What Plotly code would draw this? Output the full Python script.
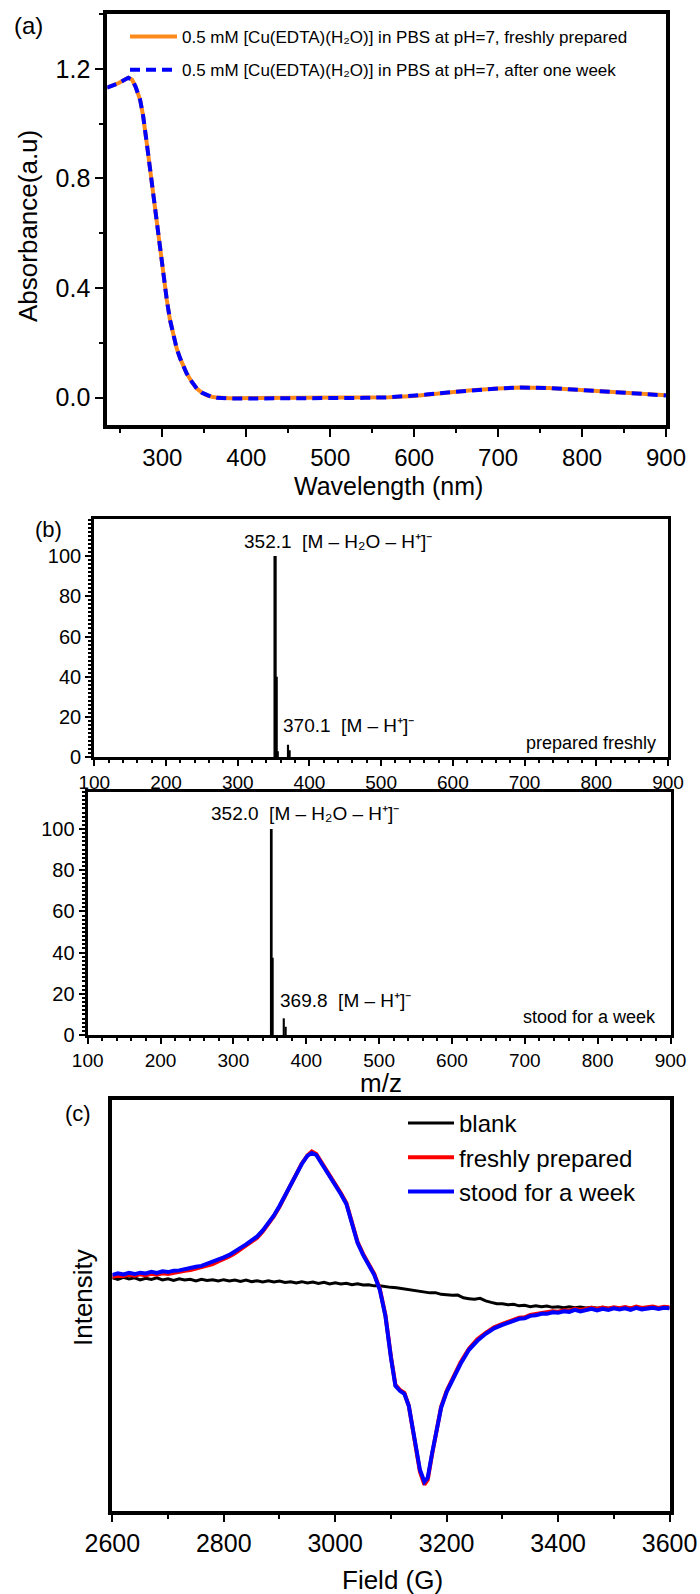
import plotly.graph_objects as go

FONT = "Liberation Sans, Arial, sans-serif"
W, H = 700, 1594

# ---------------- (a) UV-vis absorption ----------------
wavelength_nm = [234, 240, 248, 255, 259.5, 264, 268, 273.4, 277, 281.4, 284, 287.4, 290,
                 293.4, 296, 299.3, 302, 305.3, 309, 313.2, 317, 321.2, 325, 329, 335, 341,
                 347, 353, 359, 365, 380, 420, 460, 500, 540, 570, 600, 614, 640, 668, 700,
                 727, 760, 802, 830, 856, 880, 900]
abs_fresh = [1.131, 1.138, 1.148, 1.160, 1.167, 1.160, 1.135, 1.088, 1.030, 0.929, 0.865,
             0.795, 0.740, 0.661, 0.595, 0.502, 0.435, 0.356, 0.285, 0.222, 0.180, 0.143,
             0.115, 0.088, 0.058, 0.033, 0.018, 0.008, 0.003, 0.000, -0.002, -0.002, -0.002,
             -0.002, -0.001, 0.001, 0.006, 0.011, 0.019, 0.027, 0.033, 0.037, 0.035, 0.027,
             0.022, 0.017, 0.012, 0.009]
abs_week = [1.131, 1.138, 1.148, 1.160, 1.167, 1.160, 1.135, 1.088, 1.030, 0.929, 0.865,
            0.795, 0.740, 0.661, 0.595, 0.502, 0.435, 0.356, 0.285, 0.222, 0.180, 0.143,
            0.115, 0.088, 0.058, 0.033, 0.018, 0.008, 0.002, -0.001, -0.003, -0.003, -0.003,
            -0.002, -0.001, 0.001, 0.006, 0.011, 0.019, 0.027, 0.033, 0.037, 0.035, 0.027,
            0.022, 0.017, 0.012, 0.008]
abs_ticks = [0.0, 0.4, 0.8, 1.2]
wl_ticks = [300, 400, 500, 600, 700, 800, 900]

# ---------------- (b) ESI-MS ----------------
mz_fresh = [352.1, 354.1, 356.1, 370.1, 372.1]
rel_fresh = [100, 40, 3, 6.2, 3.5]
mz_week = [352.0, 354.0, 369.8, 371.8]
rel_week = [100, 37.5, 8.1, 4.0]
mz_ticks = [100, 200, 300, 400, 500, 600, 700, 800, 900]
rel_ticks = [0, 20, 40, 60, 80, 100]

# ---------------- (c) EPR ----------------
field_blank = [
    2600, 2610, 2620, 2630, 2640, 2650, 2660, 2670, 2680, 2690,
    2700, 2710, 2720, 2730, 2740, 2750, 2760, 2770, 2780, 2790,
    2800, 2810, 2820, 2830, 2840, 2850, 2860, 2870, 2880, 2890,
    2900, 2910, 2920, 2930, 2940, 2950, 2960, 2970, 2980, 2990,
    3000, 3010, 3020, 3030, 3040, 3050, 3060, 3070, 3080, 3090,
    3100, 3110, 3120, 3130, 3140, 3150, 3160, 3170, 3180, 3190,
    3200, 3210, 3220, 3230, 3240, 3250, 3260, 3270, 3280, 3290,
    3300, 3310, 3320, 3330, 3340, 3350, 3360, 3370, 3380, 3390,
    3400, 3410, 3420, 3430, 3440, 3450, 3460, 3470, 3480, 3490,
    3500, 3510, 3520, 3530, 3540, 3550, 3560, 3570, 3580, 3590,
    3600]
epr_blank = [
    0.300, 0.285, 0.305, 0.290, 0.300, 0.280, 0.295, 0.285, 0.300, 0.280,
    0.290, 0.275, 0.290, 0.280, 0.285, 0.270, 0.285, 0.275, 0.280, 0.268,
    0.282, 0.270, 0.278, 0.265, 0.278, 0.262, 0.272, 0.260, 0.270, 0.258,
    0.268, 0.255, 0.262, 0.250, 0.262, 0.248, 0.258, 0.245, 0.255, 0.240,
    0.250, 0.238, 0.245, 0.232, 0.240, 0.228, 0.232, 0.220, 0.222, 0.210,
    0.205, 0.200, 0.192, 0.185, 0.180, 0.168, 0.165, 0.150, 0.152, 0.135,
    0.130, 0.125, 0.128, 0.100, 0.092, 0.085, 0.095, 0.070, 0.055, 0.042,
    0.040, 0.030, 0.035, 0.020, 0.025, 0.012, 0.020, 0.010, 0.018, 0.005,
    0.012, 0.002, 0.010, 0.000, 0.008, -0.002, 0.006, -0.004, 0.005, -0.003,
    0.004, -0.005, 0.003, -0.002, 0.006, -0.004, 0.002, -0.003, 0.004, -0.002,
    0.000]
field_sample = [
    2600, 2610, 2620, 2630, 2640, 2650, 2660, 2670, 2680, 2690,
    2700, 2710, 2720, 2730, 2740, 2750, 2760, 2770, 2780, 2790,
    2800, 2810, 2820, 2830, 2840, 2850, 2860, 2870, 2880, 2890,
    2900, 2920, 2940, 2950, 2958, 2966, 2980, 3000, 3010, 3020,
    3030, 3040, 3050, 3060, 3070, 3080, 3090, 3100, 3108, 3116,
    3124, 3132, 3142, 3152, 3160, 3166, 3174, 3182, 3190, 3200,
    3212, 3225, 3240, 3255, 3270, 3285, 3300, 3310, 3320, 3330,
    3340, 3350, 3360, 3370, 3380, 3390, 3400, 3410, 3420, 3430,
    3440, 3450, 3460, 3470, 3480, 3490, 3500, 3510, 3520, 3530,
    3540, 3550, 3560, 3570, 3580, 3590, 3600]
epr_fresh = [
    0.312, 0.322, 0.318, 0.330, 0.322, 0.335, 0.325, 0.342, 0.332, 0.345,
    0.338, 0.352, 0.356, 0.372, 0.378, 0.395, 0.402, 0.425, 0.438, 0.465,
    0.488, 0.515, 0.545, 0.585, 0.622, 0.668, 0.702, 0.765, 0.840, 0.918,
    1.012, 1.225, 1.445, 1.525, 1.565, 1.540, 1.420, 1.250, 1.150, 1.050,
    0.870, 0.660, 0.540, 0.440, 0.340, 0.190, -0.070, -0.490, -0.770, -0.820,
    -0.850, -0.980, -1.340, -1.640, -1.770, -1.720, -1.460, -1.200, -0.990, -0.830,
    -0.690, -0.545, -0.410, -0.315, -0.250, -0.195, -0.160, -0.140, -0.128, -0.100,
    -0.095, -0.070, -0.062, -0.050, -0.048, -0.035, -0.038, -0.025, -0.028, -0.010,
    -0.022, -0.012, 0.000, -0.012, 0.002, -0.008, 0.006, -0.004, 0.008, -0.006,
    0.012, -0.002, 0.008, 0.012, 0.000, 0.010, 0.005]
epr_week = [
    0.330, 0.345, 0.335, 0.350, 0.338, 0.352, 0.345, 0.360, 0.350, 0.365,
    0.358, 0.372, 0.375, 0.390, 0.395, 0.412, 0.420, 0.440, 0.455, 0.480,
    0.505, 0.530, 0.560, 0.600, 0.635, 0.680, 0.715, 0.775, 0.850, 0.925,
    1.020, 1.230, 1.440, 1.520, 1.550, 1.530, 1.410, 1.240, 1.140, 1.040,
    0.860, 0.650, 0.530, 0.430, 0.330, 0.180, -0.080, -0.500, -0.780, -0.830,
    -0.860, -0.980, -1.330, -1.620, -1.740, -1.700, -1.450, -1.200, -1.000, -0.840,
    -0.700, -0.560, -0.420, -0.330, -0.260, -0.205, -0.170, -0.150, -0.140, -0.110,
    -0.105, -0.080, -0.075, -0.060, -0.060, -0.045, -0.050, -0.035, -0.040, -0.020,
    -0.035, -0.025, -0.010, -0.025, -0.010, -0.020, -0.005, -0.015, -0.005, -0.020,
    0.000, -0.015, -0.005, 0.000, -0.010, 0.000, -0.005]
field_ticks = [2600, 2800, 3000, 3200, 3400, 3600]


def dom_x(left, right):
    return [left / W, right / W]


def dom_y(top, bottom):
    return [1 - bottom / H, 1 - top / H]


def frame(lw, size, **kw):
    d = dict(showline=True, linecolor="black", linewidth=lw, mirror=True,
             ticks="outside", tickcolor="black", showgrid=False, zeroline=False,
             automargin=False, tickfont=dict(family=FONT, size=size, color="black"))
    d.update(kw)
    return d


def label(text, x, y, size, xanchor="center", angle=0):
    return dict(text=text, x=x / W, y=1 - y / H, xref="paper", yref="paper",
                showarrow=False, xanchor=xanchor, yanchor="middle", textangle=angle,
                font=dict(family=FONT, size=size, color="black"))


fig = go.Figure()

# (a) absorbance spectra
fig.add_trace(go.Scatter(
    x=wavelength_nm, y=abs_fresh, mode="lines", xaxis="x", yaxis="y",
    line=dict(color="#FF8A1C", width=4), legend="legend", legendgroup="a1",
    name="0.5 mM [Cu(EDTA)(H₂O)] in PBS at pH=7, freshly prepared"))
fig.add_trace(go.Scatter(
    x=wavelength_nm, y=abs_week, mode="lines", xaxis="x", yaxis="y",
    line=dict(color="#0000FF", width=4, dash="10px,6px"), legend="legend", legendgroup="a2",
    name="0.5 mM [Cu(EDTA)(H₂O)] in PBS at pH=7, after one week"))

# (b) mass spectra
fig.add_trace(go.Bar(x=mz_fresh, y=rel_fresh, width=[4.5, 3.5, 2.5, 3, 3.5],
                     marker=dict(color="black", line=dict(width=0)),
                     xaxis="x2", yaxis="y2", showlegend=False))
fig.add_trace(go.Bar(x=mz_week, y=rel_week, width=[3.7, 2.5, 1.6, 2.5],
                     marker=dict(color="black", line=dict(width=0)),
                     xaxis="x3", yaxis="y3", showlegend=False))

# (c) EPR spectra
fig.add_trace(go.Scatter(x=field_blank, y=epr_blank, mode="lines", name="blank",
                         line=dict(color="black", width=3), xaxis="x4", yaxis="y4",
                         legend="legend2"))
fig.add_trace(go.Scatter(x=field_sample, y=epr_fresh, mode="lines", name="freshly prepared",
                         line=dict(color="#FF0000", width=4), xaxis="x4", yaxis="y4",
                         legend="legend2"))
fig.add_trace(go.Scatter(x=field_sample, y=epr_week, mode="lines", name="stood for a week",
                         line=dict(color="#0000FF", width=4), xaxis="x4", yaxis="y4",
                         legend="legend2"))

minor_a = dict(ticks="outside", ticklen=4, tickwidth=2, tickcolor="black")
minor_b_x = dict(dtick=20, tick0=100, ticks="outside", ticklen=3, tickwidth=2,
                 tickcolor="black")
minor_b_y = dict(dtick=2, tick0=0, ticks="outside", ticklen=3, tickwidth=1.5,
                 tickcolor="black")

fig.update_layout(
    width=W, height=H,
    margin=dict(l=0, r=0, t=0, b=0, pad=0, autoexpand=False),
    paper_bgcolor="white", plot_bgcolor="white", barmode="overlay",
    font=dict(family=FONT, size=18, color="black"),
    xaxis=frame(4, 24, domain=dom_x(107.3, 666), anchor="y", range=[234.4, 900],
                tickvals=wl_ticks, ticklen=8, tickwidth=2,
                minor=dict(dtick=50, tick0=250, **minor_a)),
    yaxis=frame(4, 25, domain=dom_y(14, 425), anchor="x", range=[-0.1, 1.4],
                tickvals=abs_ticks, tickformat=".1f", ticklen=8, tickwidth=2,
                minor=dict(dtick=0.2, tick0=0, **minor_a)),
    xaxis2=frame(3.3, 19, domain=dom_x(94.3, 668), anchor="y2", range=[100, 900],
                 tickvals=mz_ticks, ticklen=6, tickwidth=2, minor=minor_b_x),
    yaxis2=frame(3.3, 20, domain=dom_y(519, 757.3), anchor="x2", range=[0, 118.4],
                 tickvals=rel_ticks, ticklen=6, tickwidth=2, minor=minor_b_y),
    xaxis3=frame(3.3, 19, domain=dom_x(87.7, 670.5), anchor="y3", range=[100, 900],
                 tickvals=mz_ticks, ticklen=6, tickwidth=2, minor=minor_b_x),
    yaxis3=frame(3.3, 20, domain=dom_y(791.7, 1035), anchor="x3", range=[0, 118.1],
                 tickvals=rel_ticks, ticklen=6, tickwidth=2, minor=minor_b_y),
    xaxis4=frame(3.5, 25, domain=dom_x(112.3, 669.6), anchor="y4", range=[2600, 3600],
                 tickvals=field_ticks, ticklen=8, tickwidth=2,
                 minor=dict(dtick=100, tick0=2600, ticks="outside", ticklen=5, tickwidth=2,
                            tickcolor="black")),
    yaxis4=frame(3.5, 25, domain=dom_y(1100, 1510.7), anchor="x4", range=[-2.03, 2.08],
                 ticks="", showticklabels=False),
    legend=dict(x=125 / W, y=1 - 19 / H, xanchor="left", yanchor="top",
                bgcolor="rgba(0,0,0,0)", borderwidth=0, itemwidth=47, tracegroupgap=8,
                font=dict(family=FONT, size=17, color="black")),
    legend2=dict(x=403 / W, y=1 - 1101 / H, xanchor="left", yanchor="top",
                 bgcolor="rgba(0,0,0,0)", borderwidth=0, itemwidth=46,
                 font=dict(family=FONT, size=24, color="black")),
    annotations=[
        label("(a)", 28, 26, 24),
        label("Absorbance(a.u)", 28, 226, 26, angle=-90),
        label("Wavelength (nm)", 388, 486, 25),
        label("(b)", 48, 529, 22),
        label("352.1  [M – H₂O – H⁺]⁻", 241.7, 541, 19, xanchor="left"),
        label("370.1  [M – H⁺]⁻", 281, 726, 19, xanchor="left"),
        label("prepared freshly", 658, 743, 18, xanchor="right"),
        label("352.0  [M – H₂O – H⁺]⁻", 209, 813, 19, xanchor="left"),
        label("369.8  [M – H⁺]⁻", 277.7, 1000, 19, xanchor="left"),
        label("stood for a week", 658, 1017, 18, xanchor="right"),
        label("m/z", 381, 1083, 26),
        label("(c)", 78, 1113, 22),
        label("Intensity", 83, 1298, 26, angle=-90),
        label("Field (G)", 392, 1580, 26),
    ],
)

fig.write_html("out.html")
